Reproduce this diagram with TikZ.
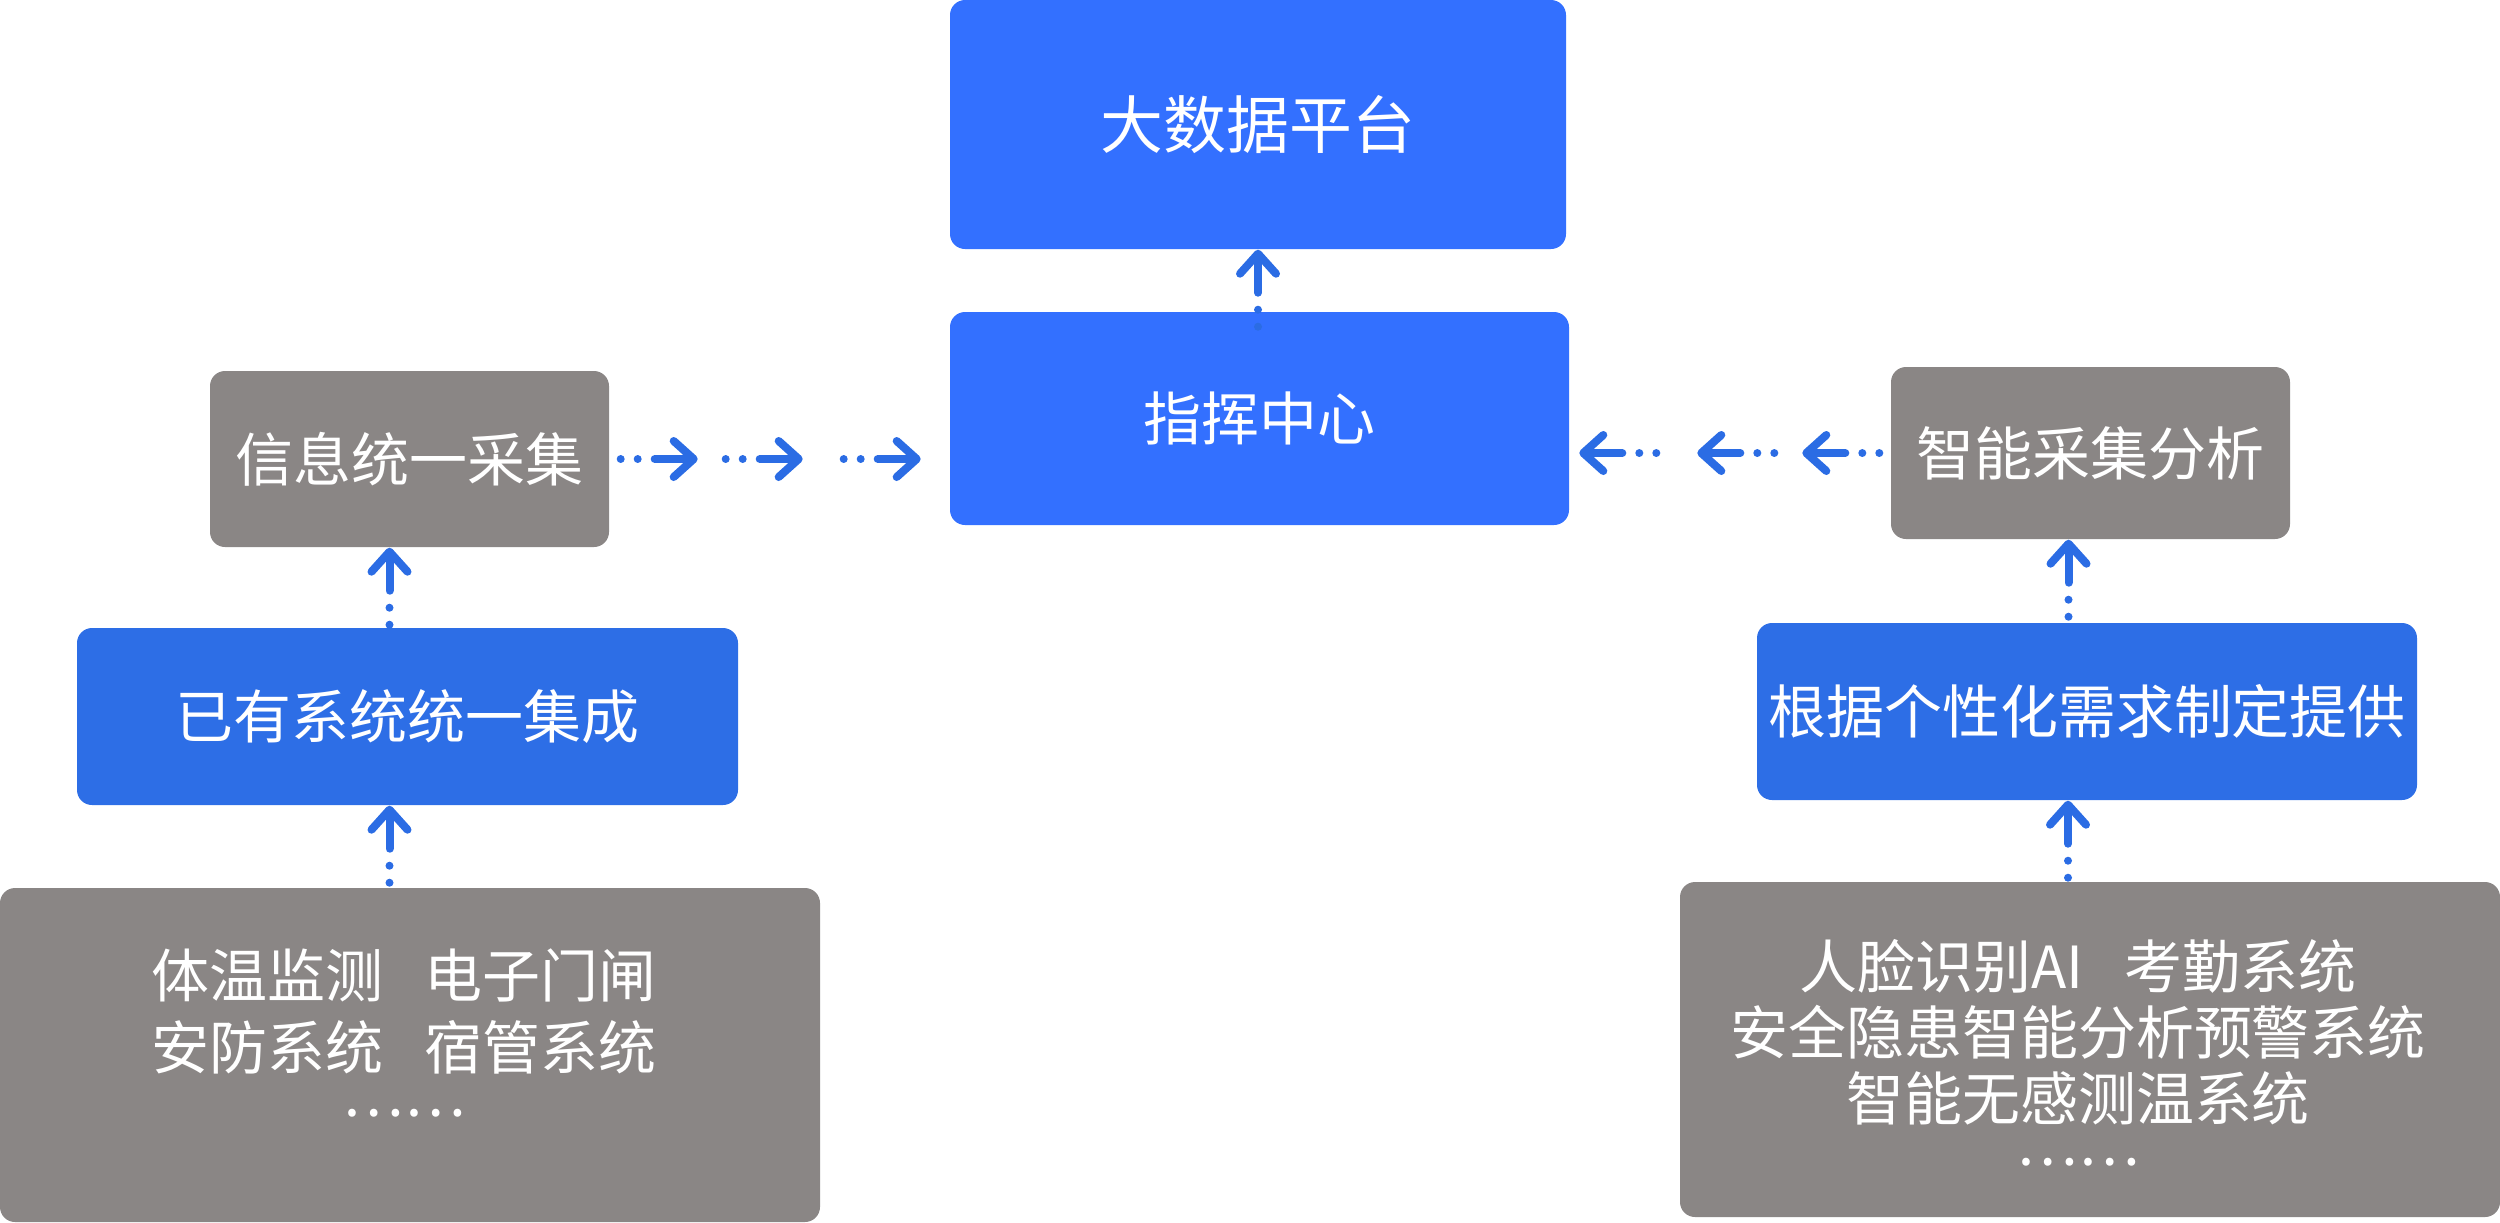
\documentclass[tikz,border=0pt]{standalone}
\usepackage{fontspec}
\setmainfont{Noto Sans CJK SC}
\usetikzlibrary{arrows.meta,calc}
\definecolor{topblue}{HTML}{3370FF}
\definecolor{midblue}{HTML}{2D6EE6}
\definecolor{flowblue}{HTML}{2B6CE4}
\definecolor{boxgray}{HTML}{8A8685}
\tikzset{
  box/.style={rectangle,rounded corners=1.5mm,text=white,inner sep=0pt,
    font=\fontsize{16.5pt}{20pt}\selectfont},
  bluebox/.style={box,fill=topblue},
  darkbox/.style={box,fill=midblue},
  greybox/.style={box,fill=boxgray},
  flow/.style={draw=flowblue,line width=0.8mm,line cap=round,
    -{Straight Barb[length=2mm,width=3.6mm,round]}}
}
% one dotted arrow: tip at #1, #2 points back to the source
\newcommand\flowstep[2]{%
  \draw[flow] ($(#1)+43*(#2)$) -- (#1);
  \fill[flowblue] ($(#1)+60*(#2)$) circle (4);
  \fill[flowblue] ($(#1)+77*(#2)$) circle (4);}
\begin{document}
\begin{tikzpicture}[x=0.1mm,y=-0.1mm]
\useasboundingbox (0,0) rectangle (2500,1222);
% centre column
\node[bluebox,minimum width=61.6mm,minimum height=24.9mm,
  font=\fontsize{17.9pt}{20pt}\selectfont] (bigdata) at (1258,124.5) {大数据平台};
\node[bluebox,minimum width=61.9mm,minimum height=21.3mm] (command) at (1259.5,418.5) {指挥中心};
% left column
\node[greybox,minimum width=39.9mm,minimum height=17.6mm] (collect) at (409.5,459) {信息统一采集};
\node[darkbox,minimum width=66.1mm,minimum height=17.7mm] (integrate) at (407.5,716.5) {已有系统统一集成};
\node[greybox,minimum width=82mm,minimum height=33.4mm] (oldsys) at (410,1055) {};
\node[align=center,text=white,font=\fontsize{16.5pt}{20.5pt}\selectfont] (oldtext) at (404,1033)
  {体温监测\hspace{0.7em}电子门闸\\安防系统\hspace{0.7em}宿管系统\\[-7pt]……};
% right column
\node[greybox,minimum width=39.9mm,minimum height=17.2mm] (analyse) at (2090.5,453) {智能采集分析};
\node[darkbox,minimum width=66mm,minimum height=17.7mm] (custom) at (2087,711.5) {根据个性化需求制定提供};
\node[greybox,minimum width=82mm,minimum height=33.5mm] (newsys) at (2090,1049.5) {};
\node[align=center,text=white,font=\fontsize{16.5pt}{18.8pt}\selectfont] (newtext) at (2078,1052.5)
  {人脸识别AI\hspace{0.7em}考勤系统\\安全隐患智能分析预警系统\\智能无感测温系统\\[-6pt]……};
% connectors
\coordinate (t0) at (bigdata.south);
\flowstep{t0}{0,1}
\foreach \d [count=\i] in {88,193,311}{
  \coordinate (l\i) at ($(collect.east)+(\d,0)$);
  \flowstep{l\i}{-1,0}
  \coordinate (r\i) at ($(analyse.west)-(\d,0)$);
  \flowstep{r\i}{1,0}
}
\coordinate (l4) at ($(collect.south)+(-20,0)$);
\flowstep{l4}{0,1}
\coordinate (l5) at ($(integrate.south)+(-18,0)$);
\flowstep{l5}{0,1}
\coordinate (r4) at ($(analyse.south)+(-22,0)$);
\flowstep{r4}{0,1}
\coordinate (r5) at ($(custom.south)+(-19,0)$);
\flowstep{r5}{0,1}
\end{tikzpicture}
\end{document}
